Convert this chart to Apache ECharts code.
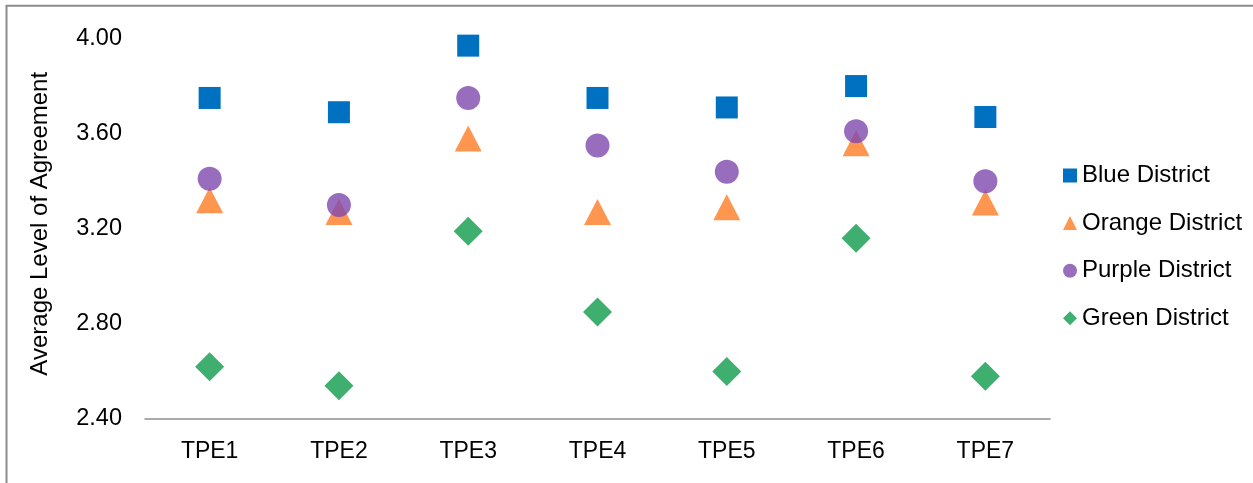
<!DOCTYPE html>
<html>
<head>
<meta charset="utf-8">
<script src="https://cdn.jsdelivr.net/npm/echarts@6/dist/echarts.min.js"></script>
<style>
html,body{margin:0;padding:0;background:#fff;}
#chart{width:1253px;height:483px;}
</style>
</head>
<body>
<div id="chart"></div>
<script>
const categories = ['TPE1','TPE2','TPE3','TPE4','TPE5','TPE6','TPE7'];
const blueDistrict   = [3.75, 3.69, 3.97, 3.75, 3.71, 3.80, 3.67];
const orangeDistrict = [3.32, 3.27, 3.58, 3.27, 3.29, 3.56, 3.31];
const purpleDistrict = [3.41, 3.30, 3.75, 3.55, 3.44, 3.61, 3.40];
const greenDistrict  = [2.62, 2.54, 3.19, 2.85, 2.60, 3.16, 2.58];
const yTicks = [2.40, 2.80, 3.20, 3.60, 4.00];

const FONT = 'Liberation Sans';
const chart = echarts.init(document.getElementById('chart'));
chart.setOption({
  backgroundColor: '#ffffff',
  animation: false,
  textStyle: { fontFamily: FONT },
  graphic: [{
    type: 'polyline',
    shape: { points: [[6.5, 483], [6.5, 5.8], [1253, 5.8]] },
    style: { stroke: '#8c8c8c', lineWidth: 2, fill: null },
    silent: true
  }],
  grid: { left: 145, right: 203, top: 38.5, bottom: 64, containLabel: false },
  legend: {
    orient: 'vertical',
    left: 1058,
    top: 158.5,
    itemWidth: 14,
    itemHeight: 14,
    itemGap: 23.6,
    textStyle: { fontFamily: FONT, fontSize: 24, color: '#000' },
    data: ['Blue District', 'Orange District', 'Purple District', 'Green District']
  },
  xAxis: {
    type: 'category',
    data: categories,
    boundaryGap: true,
    axisLine: { show: true, lineStyle: { color: '#8f8f8f', width: 1.5 } },
    axisTick: { show: false },
    splitLine: { show: false },
    axisLabel: { fontFamily: FONT, fontSize: 23, color: '#000', margin: 21 }
  },
  yAxis: {
    type: 'value',
    min: yTicks[0],
    max: yTicks[yTicks.length - 1],
    interval: 0.4,
    name: 'Average Level of Agreement',
    nameLocation: 'middle',
    nameGap: 93,
    nameRotate: 90,
    nameTextStyle: { fontFamily: FONT, fontSize: 24, color: '#000', padding: [0, 0, 0, 10] },
    axisLine: { show: false },
    axisTick: { show: false },
    splitLine: { show: false },
    axisLabel: {
      fontFamily: FONT, fontSize: 23.5, color: '#000', margin: 23,
      formatter: v => v.toFixed(2)
    }
  },
  series: [
    { name: 'Blue District', type: 'scatter', data: blueDistrict,
      symbol: 'rect', symbolSize: 22, itemStyle: { color: '#0070C0', opacity: 1 } },
    { name: 'Orange District', type: 'scatter', data: orangeDistrict,
      symbol: 'triangle', symbolSize: [27, 26], itemStyle: { color: '#FF9650', opacity: 1 } },
    { name: 'Purple District', type: 'scatter', data: purpleDistrict,
      symbol: 'circle', symbolSize: 24, itemStyle: { color: '#7E48AC', opacity: 0.8 } },
    { name: 'Green District', type: 'scatter', data: greenDistrict,
      symbol: 'diamond', symbolSize: 29, itemStyle: { color: '#3FAF6F', opacity: 1 } }
  ]
});
</script>
</body>
</html>
